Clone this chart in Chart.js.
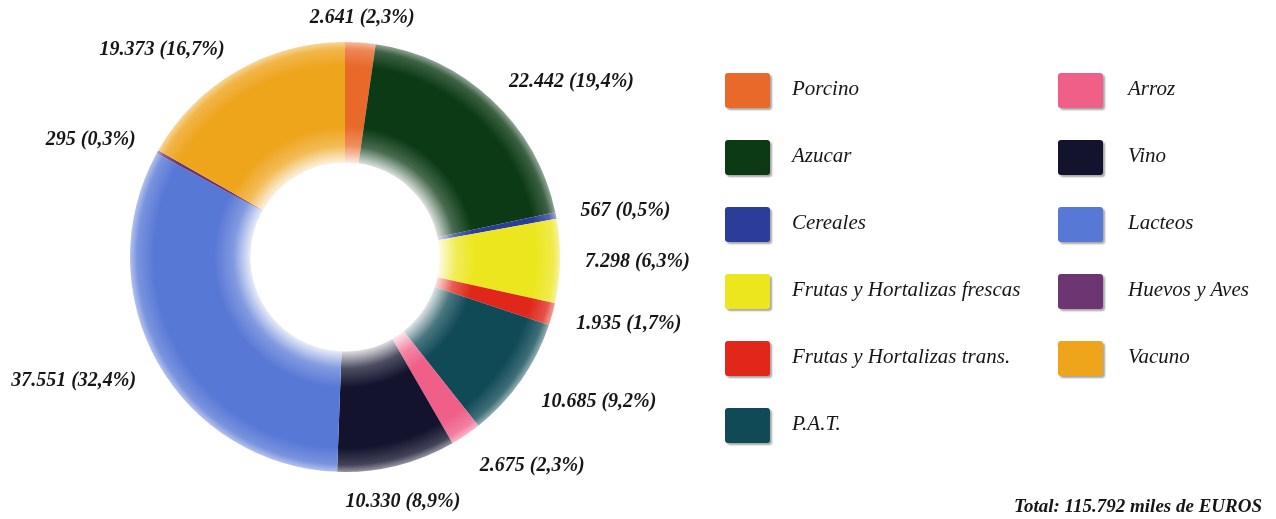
<!DOCTYPE html>
<html>
<head>
<meta charset="utf-8">
<script src="https://cdn.jsdelivr.net/npm/chart.js@4"></script>
<style>
    body { margin: 0; background: #fff; }
    #wrap { position: relative; width: 1276px; height: 519px; overflow: hidden; }
    #chart { position: absolute; left: 0; top: 0; }
    .item { position: absolute; height: 35px; }
    .box { position: absolute; left: 0; top: 0; width: 45px; height: 35px; border-radius: 3px;
        box-shadow: 2px 2px 2px rgba(0,0,0,0.35); }
    .txt { position: absolute; top: 3px; line-height: 35px; white-space: nowrap;
        font: italic 21px "Liberation Serif", serif; color: #161616; }
    #total { position: absolute; right: 14px; top: 495px; white-space: nowrap;
        font: bold italic 19px "Liberation Serif", serif; color: #161616; }
</style>
</head>
<body>
<div id="wrap">
    <canvas id="chart" width="1276" height="519"></canvas>
    <div id="legend"></div>
    <div id="total">Total: 115.792 miles de EUROS</div>
</div>
<script>
// miles de EUROS por sector
const sectors = ["Porcino", "Azucar", "Cereales", "Frutas y Hortalizas frescas",
    "Frutas y Hortalizas trans.", "P.A.T.", "Arroz", "Vino", "Lacteos", "Huevos y Aves", "Vacuno"];
const amounts = [2641, 22442, 567, 7298, 1935, 10685, 2675, 10330, 37551, 295, 19373];
const colors = ["#e8692a", "#0b3a14", "#2b3d98", "#ece61e", "#e0271a", "#0f4a56",
    "#ef5f88", "#13132e", "#5878d6", "#6d3571", "#eea41b"];

const total = amounts.reduce((a, b) => a + b, 0);

const fmtNum = (v) => String(v).replace(/\B(?=(\d{3})+(?!\d))/g, ".");
const fmtPct = (v) => (v / total * 100).toFixed(1).replace(".", ",");

//mix a hex colour with another one
const mix = (hex, other, t) => {
    const a = parseInt(hex.slice(1), 16), b = parseInt(other.slice(1), 16);
    const ch = (n, s) => (n >> s) & 255;
    const m = (s) => Math.round(ch(a, s) * (1 - t) + ch(b, s) * t);
    return `rgb(${m(16)},${m(8)},${m(0)})`;
};

const CUTOUT = 0.44;

const shade = (ctx) => {
    const base = colors[ctx.dataIndex];
    const chart = ctx.chart;
    const area = chart.chartArea;
    if (!area) return base;
    const cx = (area.left + area.right) / 2;
    const cy = (area.top + area.bottom) / 2;
    const outer = Math.min(area.right - area.left, area.bottom - area.top) / 2;
    const inner = outer * CUTOUT;
    const g = chart.ctx.createRadialGradient(cx, cy, inner, cx, cy, outer);
    g.addColorStop(0, mix(base, "#ffffff", 0.85));
    g.addColorStop(0.14, mix(base, "#ffffff", 0.25));
    g.addColorStop(0.3, base);
    g.addColorStop(0.8, base);
    g.addColorStop(0.94, mix(base, "#ffffff", 0.2));
    g.addColorStop(1, mix(base, "#ffffff", 0.55));
    return g;
};

//value labels round the ring
const outsideLabels = {
    id: "outsideLabels",
    afterDatasetsDraw(chart) {
        const ctx = chart.ctx;
        const meta = chart.getDatasetMeta(0);
        ctx.save();
        ctx.font = 'bold italic 20px "Liberation Serif", serif';
        ctx.fillStyle = "#161616";
        ctx.textBaseline = "middle";
        meta.data.forEach((arc, i) => {
            const p = arc.getProps(["x", "y", "startAngle", "endAngle", "outerRadius"], true);
            const mid = (p.startAngle + p.endAngle) / 2;
            const r = p.outerRadius + 25;
            const cos = Math.cos(mid), sin = Math.sin(mid);
            const x = p.x + cos * r;
            const y = p.y + sin * r + Math.max(0, sin) * 12;
            ctx.textAlign = cos > 0.3 ? "left" : (cos < -0.3 ? "right" : "center");
            ctx.fillText(`${fmtNum(amounts[i])} (${fmtPct(amounts[i])}%)`, x, y);
        });
        ctx.restore();
    }
};

new Chart(document.querySelector("#chart"), {
    type: "doughnut",
    data: {
        labels: sectors,
        datasets: [{
            data: amounts,
            backgroundColor: shade,
            borderWidth: 0,
            hoverOffset: 0
        }]
    },
    options: {
        responsive: false,
        animation: false,
        events: [],
        cutout: (CUTOUT * 100) + "%",
        layout: { padding: { left: 130, right: 716, top: 42, bottom: 47 } },
        plugins: {
            legend: { display: false },
            tooltip: { enabled: false }
        }
    },
    plugins: [outsideLabels]
});

//legend in two columns, six rows in the first
const legend = document.querySelector("#legend");
sectors.forEach((name, i) => {
    const col = i < 6 ? 0 : 1;
    const row = i < 6 ? i : i - 6;
    const item = document.createElement("div");
    item.className = "item";
    item.style.left = (col === 0 ? 725 : 1058) + "px";
    item.style.top = (73 + row * 67) + "px";
    item.innerHTML = `<div class="box" style="background:${colors[i]}"></div>` +
        `<div class="txt" style="left:${col === 0 ? 67 : 70}px">${name}</div>`;
    legend.appendChild(item);
});
</script>
</body>
</html>
